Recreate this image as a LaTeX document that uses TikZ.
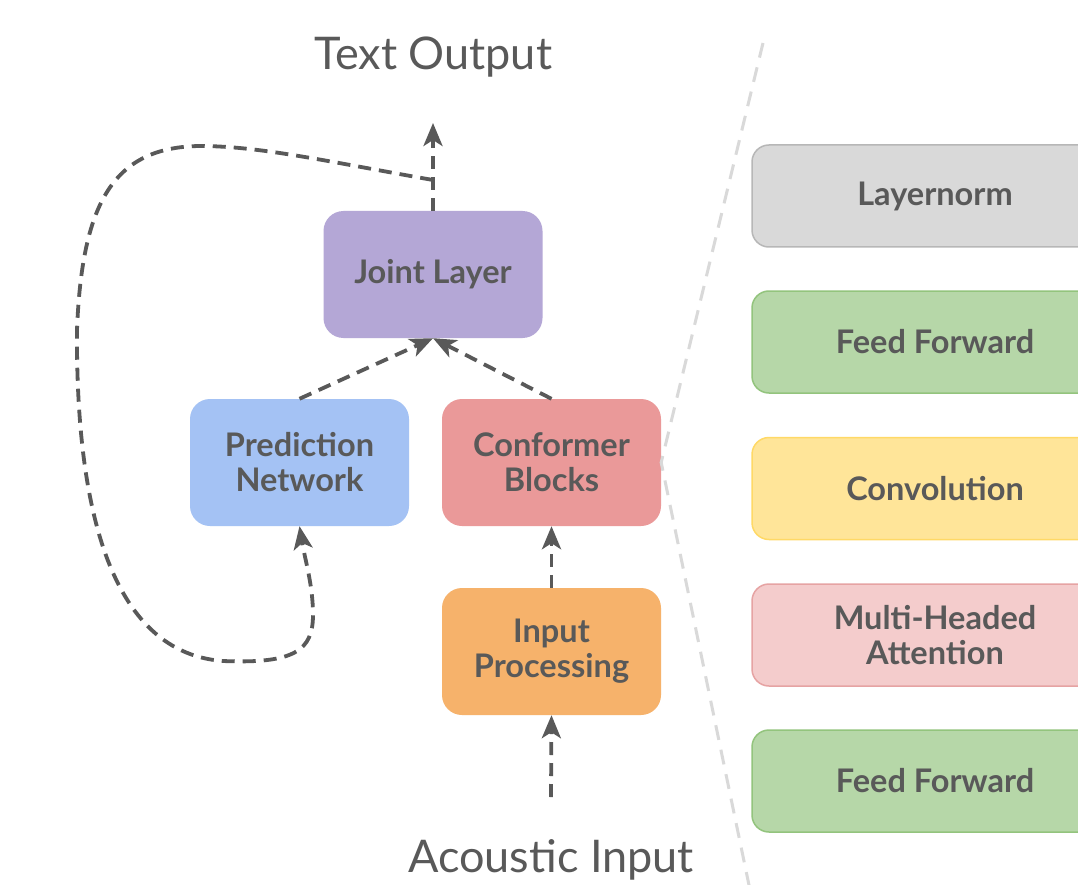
\documentclass[tikz,border=0pt]{standalone}
\usepackage{fontspec}
\setmainfont{Lato}
\usetikzlibrary{arrows.meta}
\definecolor{txt}{HTML}{595959}
\definecolor{arrowc}{HTML}{595959}
\definecolor{sepc}{HTML}{D9D9D9}
\definecolor{jointc}{HTML}{B4A7D6}
\definecolor{predc}{HTML}{A4C2F4}
\definecolor{confc}{HTML}{EA9999}
\definecolor{inpc}{HTML}{F6B26B}
\definecolor{lnf}{HTML}{D9D9D9}
\definecolor{lnd}{HTML}{B7B7B7}
\definecolor{fff}{HTML}{B6D7A8}
\definecolor{ffd}{HTML}{93C47D}
\definecolor{cvf}{HTML}{FFE599}
\definecolor{cvd}{HTML}{FFD966}
\definecolor{mhf}{HTML}{F4CCCC}
\definecolor{mhd}{HTML}{E6A3A3}
\begin{document}
\begin{tikzpicture}[x=1pt,y=-1pt,
  lbox/.style={rounded corners=20pt, minimum width=219pt, minimum height=127pt, inner sep=0pt,
    align=center, text=txt, font=\bfseries\fontsize{32.5}{35}\selectfont},
  rbox/.style={rounded corners=17pt, minimum width=366pt, minimum height=102pt, inner sep=0pt,
    line width=1.5pt, align=center, text=txt, font=\bfseries\fontsize{32.5}{35}\selectfont},
  title/.style={text=txt, font=\fontsize{45}{50}\selectfont, inner sep=0pt, anchor=base},
  flow/.style={draw=arrowc, line width=3.8pt, dash pattern=on 13pt off 8pt,
    -{Stealth[length=23pt,width=19pt,inset=6pt]}},
  sepline/.style={draw=sepc, line width=3pt, dash pattern=on 15pt off 10pt}]
\useasboundingbox (0,0) rectangle (1078,885);
\fill[white] (0,0) rectangle (1078,885);

% right column
\node[rbox, fill=lnf, draw=lnd] (ln) at (935,196) {Layernorm};
\node[rbox, fill=fff, draw=ffd] (ff1) at (935,342) {Feed Forward};
\node[rbox, fill=cvf, draw=cvd] (conv) at (935,488.5) {Convolution};
\node[rbox, fill=mhf, draw=mhd] (mha) at (935,635) {Multi-Headed\\Attention};
\node[rbox, fill=fff, draw=ffd] (ff2) at (935,781) {Feed Forward};

% left boxes
\node[lbox, fill=jointc] (joint) at (433,274.5) {Joint Layer};
\node[lbox, fill=predc] (pred) at (299.5,462.5) {Prediction\\Network};
\node[lbox, fill=confc] (conf) at (551.5,462.5) {Conformer\\Blocks};
\node[lbox, fill=inpc] (inp) at (551.5,651.5) {Input\\Processing};

% titles
\node[title] (tout) at (433,70) {Text Output};
\node[title] (ain) at (551,872) {Acoustic Input};

% separator
\coordinate (septop) at (763,43);
\coordinate (sepbot) at (750,890);
\draw[sepline] (septop) -- (conf.east) -- (sepbot);

% connectors
\coordinate (outtip) at (433,123);
\coordinate (fb) at (433,180);
\coordinate (aintop) at (551,797);
\draw[flow] (joint.north) -- (outtip);
\draw[flow] (pred.north) -- (joint.south);
\draw[flow] (conf.north) -- (joint.south);
\draw[flow] (inp.north) -- (conf.south);
\draw[flow] (aintop) -- (inp.south);
\draw[flow] (fb) .. controls (330,162) and (260,146) .. (200,146)
  .. controls (115,147) and (82,200) .. (77,330)
  .. controls (76,480) and (100,652) .. (223,661)
  .. controls (295,664) and (313,650) .. (313,615)
  .. controls (313,585) and (305,560) .. (pred.south);
\end{tikzpicture}
\end{document}
